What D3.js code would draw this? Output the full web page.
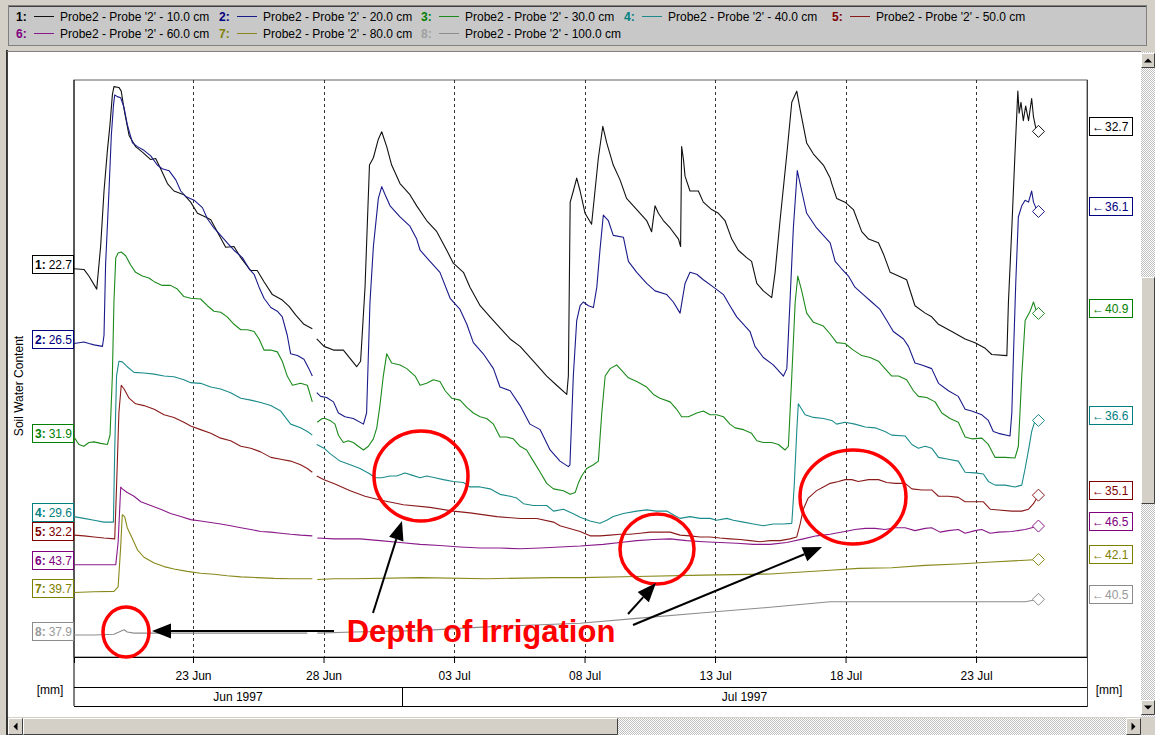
<!DOCTYPE html>
<html>
<head>
<meta charset="utf-8">
<script src="https://cdn.jsdelivr.net/npm/d3@7"></script>
<style>
  html, body { margin: 0; padding: 0; background: #d4d0c8; }
  svg { display: block; font-family: "Liberation Sans", Arial, sans-serif; }
</style>
</head>
<body>
<svg id="chart" width="1155" height="735"></svg>
<script>
// ---- Series: [day, soil water content]; day 1 = 1 Jun 1997 00:00, null = logging gap ----
const seriesLabels = [
  "Probe2 - Probe '2' - 10.0 cm", "Probe2 - Probe '2' - 20.0 cm",
  "Probe2 - Probe '2' - 30.0 cm", "Probe2 - Probe '2' - 40.0 cm",
  "Probe2 - Probe '2' - 50.0 cm", "Probe2 - Probe '2' - 60.0 cm",
  "Probe2 - Probe '2' - 80.0 cm", "Probe2 - Probe '2' - 100.0 cm"
];

const depth10 = [[18.44,22.70],[18.82,22.65],[19.01,22.17],[19.31,21.22],[19.46,24.32],[19.59,28.36],[19.72,31.32],[19.82,33.21],[19.91,35.36],[19.97,35.96],[20.16,35.90],[20.25,35.63],[20.36,34.29],[20.55,32.40],[20.80,31.59],[21.06,31.19],[21.38,30.65],[21.57,30.73],[21.76,29.98],[22.02,28.90],[22.27,28.36],[22.65,28.09],[22.91,27.55],[23.17,26.74],[23.48,26.47],[23.68,26.26],[23.93,25.40],[24.25,24.27],[24.57,24.32],[24.83,23.51],[25.21,22.57],[25.46,22.57],[25.72,21.76],[26.04,20.82],[26.42,20.42],[26.68,19.96],[26.93,19.34],[27.25,18.66],[27.57,18.34],[27.65,null],[27.74,17.59],[28.02,17.05],[28.38,16.78],[28.76,16.78],[29.27,15.57],[29.42,15.97],[29.59,21.36],[29.76,30.25],[29.91,30.78],[30.10,32.13],[30.23,32.67],[30.42,31.59],[30.61,30.25],[30.93,28.90],[31.31,28.09],[31.57,27.28],[31.95,26.21],[32.34,25.40],[32.72,24.05],[32.97,23.11],[33.36,22.44],[33.61,21.36],[34.00,20.01],[34.38,19.20],[34.76,18.40],[35.15,17.59],[35.53,17.05],[36.04,15.97],[36.55,14.89],[36.93,14.22],[37.32,13.55],[37.38,14.89],[37.45,27.55],[37.57,28.36],[37.70,29.30],[37.83,28.36],[38.02,26.74],[38.27,25.94],[38.40,28.36],[38.53,30.78],[38.70,33.07],[38.85,31.86],[39.10,30.25],[39.36,29.17],[39.61,27.82],[40.00,27.01],[40.38,26.21],[40.57,25.40],[40.70,27.28],[40.83,26.74],[41.02,26.21],[41.28,25.67],[41.60,24.86],[41.68,24.32],[41.72,31.59],[41.79,30.65],[41.85,29.44],[42.04,28.36],[42.36,28.36],[42.55,27.55],[42.87,27.01],[43.13,26.74],[43.38,26.21],[43.64,24.86],[43.89,24.05],[44.21,23.51],[44.40,23.24],[44.60,21.63],[44.85,21.09],[45.17,20.60],[45.30,22.44],[45.49,26.21],[45.75,31.05],[45.94,34.82],[46.13,35.63],[46.26,34.29],[46.51,31.86],[46.77,31.05],[47.15,30.25],[47.41,29.30],[47.47,28.90],[47.66,27.82],[47.98,27.55],[48.30,27.01],[48.62,25.40],[48.88,24.86],[49.26,24.59],[49.45,23.78],[49.71,22.44],[50.03,22.17],[50.34,21.90],[50.66,20.01],[51.05,19.47],[51.30,19.20],[51.56,18.66],[52.07,18.13],[52.58,17.59],[52.96,17.32],[53.35,16.91],[53.60,16.46],[54.18,16.38],[54.24,20.28],[54.37,25.67],[54.49,31.05],[54.60,35.63],[54.65,34.02],[54.72,34.82],[54.81,33.48],[54.90,34.55],[55.01,33.48],[55.13,35.09],[55.20,33.75],[55.29,32.94],[55.39,32.70]];

const depth20 = [[18.44,26.49],[18.63,26.55],[18.82,26.60],[19.01,26.49],[19.21,26.39],[19.53,26.28],[19.59,27.09],[19.65,32.20],[19.78,37.59],[19.87,41.63],[19.95,43.78],[20.00,44.59],[20.10,44.46],[20.23,44.38],[20.36,43.65],[20.48,42.44],[20.68,41.09],[20.87,40.82],[21.12,40.55],[21.38,40.15],[21.63,39.48],[21.82,39.21],[22.08,39.07],[22.34,38.40],[22.53,37.59],[22.72,37.19],[23.04,36.92],[23.36,36.38],[23.55,35.57],[23.80,34.90],[24.06,34.36],[24.31,33.82],[24.57,33.28],[24.89,32.74],[25.15,31.93],[25.34,31.53],[25.53,30.59],[25.72,29.78],[25.98,29.11],[26.23,28.84],[26.42,28.43],[26.61,27.09],[26.74,25.74],[27.00,25.61],[27.25,25.34],[27.44,24.66],[27.57,24.12],[27.65,null],[27.74,22.91],[27.89,22.64],[28.12,22.56],[28.38,22.24],[28.57,21.43],[28.82,21.16],[29.14,21.03],[29.53,20.62],[29.65,21.43],[29.78,29.51],[29.91,33.55],[30.10,37.05],[30.23,37.91],[30.36,37.32],[30.55,36.51],[30.93,35.70],[31.31,35.03],[31.57,34.09],[31.70,33.28],[32.08,32.47],[32.46,31.67],[32.85,29.78],[33.23,28.97],[33.49,27.89],[33.74,26.55],[34.12,25.74],[34.51,24.66],[34.76,23.32],[35.15,23.05],[35.53,21.97],[35.91,20.62],[36.30,20.22],[36.68,18.74],[37.06,17.93],[37.38,17.53],[37.44,17.66],[37.57,24.12],[37.70,28.16],[37.83,29.24],[37.95,29.51],[38.15,29.24],[38.34,29.11],[38.47,30.59],[38.59,33.28],[38.72,35.84],[38.91,35.44],[39.10,34.36],[39.49,34.22],[39.68,32.47],[40.00,31.67],[40.38,30.86],[40.70,30.32],[41.15,30.05],[41.40,29.51],[41.66,28.70],[41.85,30.86],[42.04,31.67],[42.30,31.53],[42.55,31.13],[42.94,30.59],[43.32,30.05],[43.57,29.24],[43.83,28.43],[44.09,27.89],[44.34,27.36],[44.53,26.28],[44.85,25.47],[45.23,24.93],[45.62,24.12],[45.75,24.66],[45.87,29.51],[46.00,34.90],[46.15,39.07],[46.32,37.59],[46.51,35.97],[46.89,34.90],[47.28,34.09],[47.41,33.82],[47.60,32.47],[47.85,31.93],[48.11,31.40],[48.36,30.59],[48.68,30.05],[49.00,29.51],[49.32,28.97],[49.58,28.16],[49.83,27.36],[50.22,26.82],[50.41,26.28],[50.66,25.07],[50.92,24.93],[51.30,24.66],[51.56,23.59],[51.94,23.05],[52.32,22.64],[52.58,21.70],[52.83,21.57],[53.22,21.30],[53.47,20.89],[53.66,20.08],[53.86,19.95],[54.30,19.76],[54.37,21.43],[54.43,25.47],[54.52,30.86],[54.62,35.70],[54.75,36.51],[54.88,36.92],[55.01,36.78],[55.13,37.59],[55.20,36.78],[55.29,36.38],[55.39,36.10]];

const depth30 = [[18.44,31.90],[18.63,31.36],[18.82,31.23],[19.01,31.50],[19.21,31.55],[19.46,31.44],[19.72,31.36],[19.82,32.03],[19.91,36.34],[19.97,41.73],[20.04,44.96],[20.13,45.29],[20.25,45.37],[20.42,45.10],[20.61,44.42],[20.80,43.89],[21.06,43.62],[21.31,43.48],[21.51,43.21],[21.82,42.94],[22.14,42.94],[22.40,42.67],[22.65,42.13],[22.91,42.00],[23.29,41.95],[23.55,41.46],[23.80,41.06],[24.06,40.98],[24.31,40.65],[24.57,40.11],[24.83,39.71],[25.08,39.71],[25.34,39.58],[25.53,39.04],[25.72,38.23],[25.98,38.23],[26.23,38.10],[26.42,37.42],[26.61,36.34],[26.81,35.67],[27.12,35.81],[27.38,35.67],[27.57,34.46],[27.65,null],[27.76,32.98],[27.95,33.25],[28.06,33.25],[28.25,33.11],[28.44,32.84],[28.57,32.03],[28.76,31.50],[28.95,31.63],[29.14,31.50],[29.33,31.23],[29.53,30.96],[29.72,31.23],[29.91,31.77],[30.04,32.57],[30.16,34.19],[30.29,36.34],[30.42,37.96],[30.61,37.29],[30.93,37.15],[31.19,36.88],[31.51,36.34],[31.70,35.67],[31.95,35.81],[32.21,36.07],[32.46,35.94],[32.66,35.27],[32.91,34.73],[33.23,34.59],[33.49,34.06],[33.74,33.65],[34.00,33.38],[34.25,33.25],[34.51,32.84],[34.76,31.90],[35.02,31.90],[35.27,31.77],[35.53,31.23],[35.78,30.96],[36.04,30.15],[36.30,29.34],[36.55,28.53],[36.81,28.13],[37.19,27.99],[37.45,27.73],[37.64,27.86],[37.76,28.53],[37.89,29.07],[38.08,29.61],[38.34,29.88],[38.53,30.15],[38.66,33.65],[38.79,36.34],[38.98,36.88],[39.23,37.15],[39.42,36.75],[39.68,36.21],[40.00,35.94],[40.38,35.54],[40.64,35.00],[40.89,34.73],[41.28,34.46],[41.53,33.92],[41.72,33.38],[41.98,33.38],[42.30,33.65],[42.55,33.79],[42.81,33.52],[43.06,33.52],[43.32,33.38],[43.57,32.84],[43.77,32.57],[44.09,32.44],[44.40,32.17],[44.60,31.63],[44.85,31.50],[45.17,31.50],[45.43,31.36],[45.68,30.96],[45.81,31.23],[45.94,36.34],[46.07,41.73],[46.17,43.62],[46.32,42.54],[46.51,40.92],[46.77,40.25],[47.15,39.98],[47.41,39.40],[47.66,38.77],[47.98,38.71],[48.30,38.23],[48.62,37.83],[48.94,37.69],[49.26,37.42],[49.51,36.88],[49.77,36.34],[50.03,36.34],[50.34,36.07],[50.60,35.27],[50.79,34.86],[51.11,34.78],[51.43,34.46],[51.69,33.65],[52.00,33.25],[52.32,32.98],[52.58,31.90],[52.83,31.77],[53.22,31.82],[53.47,31.36],[53.73,30.42],[54.11,30.42],[54.49,30.37],[54.62,31.23],[54.75,36.34],[54.88,40.38],[55.07,41.06],[55.20,41.73],[55.29,41.19],[55.39,40.90]];

const depth40 = [[18.44,29.60],[18.82,29.47],[19.21,29.33],[19.59,29.20],[19.95,29.20],[20.00,34.45],[20.07,39.83],[20.16,40.91],[20.29,40.86],[20.48,40.51],[20.74,40.10],[21.12,40.05],[21.51,39.97],[21.89,39.83],[22.27,39.78],[22.65,39.56],[22.91,39.35],[23.29,39.30],[23.68,39.03],[24.06,38.89],[24.44,38.62],[24.83,38.22],[25.21,38.08],[25.59,37.90],[25.98,37.68],[26.36,37.28],[26.74,36.33],[27.12,36.06],[27.38,35.79],[27.57,35.53],[27.65,null],[27.74,34.85],[28.02,34.58],[28.25,34.18],[28.63,33.64],[29.02,33.37],[29.40,33.10],[29.78,32.70],[29.97,32.43],[30.23,32.43],[30.55,32.56],[30.80,32.56],[31.12,32.78],[31.38,32.62],[31.70,32.43],[31.95,32.56],[32.27,32.43],[32.59,32.29],[32.97,32.16],[33.36,32.08],[33.61,31.76],[34.00,31.76],[34.38,31.62],[34.76,31.22],[35.15,31.08],[35.40,30.95],[35.66,30.54],[36.04,30.41],[36.55,30.41],[36.81,30.00],[37.19,30.14],[37.57,29.80],[37.83,29.55],[38.21,29.28],[38.59,29.11],[38.85,29.33],[39.10,29.60],[39.49,29.82],[40.00,30.00],[40.38,30.09],[40.76,30.00],[41.15,30.00],[41.40,29.73],[41.66,29.47],[42.04,29.60],[42.42,29.47],[42.81,29.47],[43.06,29.33],[43.45,29.47],[43.70,29.33],[44.09,29.20],[44.47,29.06],[44.85,28.93],[45.23,29.06],[45.62,29.06],[45.94,29.11],[46.03,31.76],[46.13,35.79],[46.19,37.81],[46.32,37.41],[46.45,37.01],[46.77,36.82],[47.15,36.74],[47.47,36.60],[47.66,36.33],[47.98,36.47],[48.36,36.33],[48.75,36.12],[49.13,36.06],[49.51,35.79],[49.77,35.53],[50.28,35.47],[50.54,34.85],[50.79,34.58],[51.05,34.72],[51.30,34.58],[51.56,33.91],[51.94,33.77],[52.32,33.64],[52.58,32.83],[52.96,32.78],[53.28,32.70],[53.47,32.16],[53.73,31.89],[54.11,31.89],[54.49,31.76],[54.75,31.89],[54.88,33.10],[55.01,34.45],[55.13,35.79],[55.26,36.60],[55.39,36.60]];

const depth50 = [[18.44,32.19],[18.82,32.14],[19.21,32.06],[19.59,31.98],[20.00,31.92],[20.07,35.69],[20.16,41.08],[20.25,43.10],[20.36,42.83],[20.55,42.16],[20.80,41.75],[21.12,41.62],[21.51,41.35],[21.89,40.95],[22.27,40.76],[22.65,40.41],[22.91,40.14],[23.29,39.87],[23.68,39.60],[24.06,39.25],[24.44,39.06],[24.83,38.66],[25.21,38.52],[25.59,38.25],[25.98,37.85],[26.36,37.71],[26.74,37.58],[27.12,37.31],[27.38,37.04],[27.57,36.77],[27.65,null],[27.74,36.50],[28.02,36.23],[28.44,35.91],[29.02,35.42],[29.59,35.02],[30.16,34.75],[31.06,34.40],[32.08,34.21],[32.97,33.94],[33.61,33.81],[34.64,33.54],[35.53,33.40],[36.17,33.40],[36.81,33.14],[37.06,32.87],[37.83,32.45],[38.21,32.14],[38.59,32.14],[38.98,32.19],[39.36,32.25],[39.74,32.25],[40.13,32.33],[40.51,32.41],[40.89,32.41],[41.28,32.41],[41.66,32.19],[42.04,32.14],[42.42,32.06],[42.81,32.06],[43.19,31.98],[43.57,31.92],[43.96,31.87],[44.34,31.79],[44.72,31.71],[45.11,31.79],[45.49,31.79],[45.87,31.92],[46.13,32.06],[46.26,33.00],[46.38,34.08],[46.57,34.89],[46.89,35.43],[47.15,35.69],[47.41,35.96],[47.73,36.10],[47.98,36.23],[48.24,36.23],[48.49,36.10],[48.88,36.23],[49.26,36.23],[49.58,36.02],[49.90,35.96],[50.28,35.96],[50.54,35.56],[50.92,35.48],[51.30,35.48],[51.56,35.02],[51.94,35.02],[52.32,34.94],[52.58,34.62],[52.96,34.62],[53.28,34.62],[53.54,34.08],[53.86,34.02],[54.37,33.94],[54.75,33.94],[55.01,34.08],[55.20,34.48],[55.39,35.10]];

const depth60 = [[18.44,43.69],[20.04,43.69],[20.13,45.30],[20.23,49.34],[20.29,49.21],[20.48,48.94],[20.74,48.67],[21.00,48.27],[21.38,48.00],[21.76,47.73],[22.14,47.41],[22.53,47.19],[22.91,46.97],[23.29,46.87],[23.68,46.76],[24.06,46.65],[24.44,46.52],[24.83,46.38],[25.21,46.25],[25.59,46.11],[25.98,46.06],[26.36,45.98],[26.74,45.90],[27.12,45.84],[27.57,45.79],[27.65,null],[27.76,45.63],[28.40,45.57],[29.40,45.57],[30.16,45.44],[30.93,45.30],[31.70,45.17],[32.46,45.09],[33.23,44.98],[34.00,44.90],[34.76,44.90],[35.53,44.85],[36.30,44.90],[37.06,44.98],[37.83,45.05],[38.72,45.17],[39.36,45.30],[40.00,45.44],[40.64,45.52],[41.28,45.57],[41.91,45.44],[42.55,45.36],[43.19,45.30],[43.83,45.25],[44.47,45.17],[45.11,45.17],[45.75,45.30],[46.38,45.57],[46.89,45.79],[47.41,45.90],[47.60,45.98],[47.98,46.11],[48.36,46.25],[48.75,46.33],[49.13,46.33],[49.51,46.25],[49.90,46.38],[50.28,46.38],[50.66,46.17],[51.05,46.33],[51.30,46.38],[51.62,46.06],[51.94,46.17],[52.32,46.25],[52.58,45.98],[52.96,46.17],[53.22,46.25],[53.54,45.98],[53.86,46.06],[54.37,46.11],[54.88,46.25],[55.39,46.50]];

const depth80 = [[18.44,39.70],[19.21,39.75],[19.97,39.78],[20.13,40.10],[20.23,43.07],[20.29,45.35],[20.38,45.22],[20.48,44.41],[20.68,43.60],[20.87,42.80],[21.12,42.26],[21.51,41.85],[21.89,41.58],[22.27,41.40],[22.78,41.23],[23.29,41.10],[23.80,41.02],[24.31,40.91],[24.83,40.83],[25.46,40.78],[26.10,40.72],[26.74,40.70],[27.57,40.70],[27.65,null],[27.76,40.64],[28.40,40.70],[29.14,40.70],[31.70,40.78],[34.25,40.70],[36.81,40.78],[37.83,40.78],[40.00,40.86],[42.55,40.96],[45.11,41.04],[47.41,41.32],[48.49,41.45],[49.77,41.50],[51.05,41.67],[52.32,41.77],[53.60,41.91],[54.88,42.04],[55.39,42.10]];

const depth100 = [[18.44,37.90],[19.21,37.90],[19.97,37.96],[20.23,38.17],[20.36,38.28],[20.48,38.12],[20.74,38.04],[22.27,38.04],[24.83,38.04],[27.38,38.04],[27.65,null],[27.76,38.04],[29.14,38.12],[31.70,38.22],[34.25,38.49],[37.83,38.76],[40.00,39.11],[42.55,39.52],[45.11,39.92],[47.41,40.32],[48.49,40.32],[51.05,40.32],[53.60,40.32],[54.88,40.32],[55.39,40.50]];

// each trace is auto-scaled on its own axis of equal span
const axisMin = [-5.56, 3.67, 15.89, 19.38, 23.32, 36.97, 35.0, 36.3];
const axisSpan = 42;

const tickDays = [23, 28, 33, 38, 43, 48, 53];
const monthStarts = [1, 31];
const monthLabels = ["Jun 1997", "Jul 1997"];
const viewDays = [18.44, 57.25];

const colors = ["#000000", "#000080", "#008000", "#008080", "#800000", "#800080", "#808000", "#8c8c8c"];
const lineColors = ["#111111", "#1a1a8a", "#1c8a1c", "#1b8b8b", "#8a1a1a", "#8a1a8a", "#88881a", "#8c8c8c"];
const allSeries = [depth10, depth20, depth30, depth40, depth50, depth60, depth80, depth100];

// ---- layout ----
const svg = d3.select("#chart");
const P = { left: 74, right: 1087, top: 80, bottom: 657 };
const FONT = "12px";

const toDate = t => new Date(Date.UTC(1997, 4, 31) + t * 864e5);
const x = d3.scaleUtc().domain(viewDays.map(toDate)).range([P.left, P.right]);
const yScales = axisMin.map(m => d3.scaleLinear().domain([m, m + axisSpan]).range([P.bottom, P.top]));

// dithered scrollbar track
const defs = svg.append("defs");
const pat = defs.append("pattern").attr("id", "dither").attr("width", 2).attr("height", 2)
  .attr("patternUnits", "userSpaceOnUse");
pat.append("rect").attr("width", 2).attr("height", 2).attr("fill", "#ffffff");
pat.append("rect").attr("width", 1).attr("height", 1).attr("fill", "#c0c0c0");
pat.append("rect").attr("x", 1).attr("y", 1).attr("width", 1).attr("height", 1).attr("fill", "#c0c0c0");
defs.append("clipPath").attr("id", "plotClip").append("rect")
  .attr("x", P.left).attr("y", P.top - 2).attr("width", P.right - P.left).attr("height", P.bottom - P.top + 2);

// window background and chart panel
svg.append("rect").attr("width", 1155).attr("height", 735).attr("fill", "#d4d0c8");
svg.append("rect").attr("x", 7).attr("y", 52).attr("width", 1134).attr("height", 665).attr("fill", "#ffffff");
svg.append("line").attr("x1", 7).attr("x2", 7).attr("y1", 50).attr("y2", 735).attr("stroke", "#000").attr("stroke-width", 1.5);
svg.append("line").attr("x1", 7).attr("x2", 1141).attr("y1", 51.5).attr("y2", 51.5).attr("stroke", "#808080");

// ---- legend ----
const legend = svg.append("g");
legend.append("rect").attr("x", 8.5).attr("y", 5.5).attr("width", 1138).attr("height", 40)
  .attr("fill", "#c8c8c8").attr("stroke", "#808080");
legend.append("line").attr("x1", 9).attr("x2", 1146).attr("y1", 6.5).attr("y2", 6.5).attr("stroke", "#404040");
const legendPos = [[16, 21], [219, 21], [421, 21], [624, 21], [832, 21], [16, 38], [219, 38], [421, 38]];
seriesLabels.forEach((name, i) => {
  const [lx, ly] = legendPos[i];
  const g = legend.append("g").attr("transform", `translate(${lx},${ly})`);
  g.append("text").attr("x", 0).attr("y", 0).attr("font-size", FONT).attr("font-weight", "bold")
    .attr("fill", i === 7 ? "#a0a0a0" : colors[i]).text(`${i + 1}:`);
  g.append("line").attr("x1", 18).attr("x2", 38).attr("y1", -4.5).attr("y2", -4.5).attr("stroke", lineColors[i]);
  g.append("text").attr("x", 44).attr("y", 0).attr("font-size", FONT).attr("fill", "#000").text(name);
});

// ---- plot frame, grid ----
svg.append("rect").attr("x", P.left).attr("y", P.top).attr("width", P.right - P.left).attr("height", P.bottom - P.top)
  .attr("fill", "#fff").attr("stroke", "#606060");
svg.append("line").attr("x1", P.left).attr("x2", P.left).attr("y1", P.top).attr("y2", 706).attr("stroke", "#000");

svg.append("g").selectAll("line").data(tickDays).join("line")
  .attr("x1", d => Math.round(x(toDate(d))) + 0.5).attr("x2", d => Math.round(x(toDate(d))) + 0.5)
  .attr("y1", P.top).attr("y2", P.bottom)
  .attr("stroke", "#333").attr("stroke-dasharray", "3,3");

// ---- time axis ----
const axisG = svg.append("g").attr("transform", `translate(0,${P.bottom})`);
const xAxis = d3.axisBottom(x).tickValues(tickDays.map(toDate)).tickSize(6).tickPadding(8)
  .tickFormat(d3.utcFormat("%d %b"));
axisG.call(xAxis);
axisG.select(".domain").attr("stroke", "#000");
axisG.selectAll(".tick line").attr("stroke", "#000");
axisG.selectAll(".tick text").attr("font-size", FONT).attr("font-family", "Liberation Sans, Arial, sans-serif").attr("fill", "#000");

svg.append("line").attr("x1", P.left).attr("x2", P.right).attr("y1", 687.5).attr("y2", 687.5).attr("stroke", "#000");
svg.append("line").attr("x1", P.left).attr("x2", P.right).attr("y1", 706.5).attr("y2", 706.5).attr("stroke", "#000");
svg.append("line").attr("x1", P.right + 0.5).attr("x2", P.right + 0.5).attr("y1", P.top).attr("y2", 707).attr("stroke", "#404040");
const monthEdges = monthStarts.map(d => Math.max(P.left, x(toDate(d)))).concat([P.right]);
monthStarts.forEach((d, i) => {
  if (i > 0) svg.append("line").attr("x1", Math.round(monthEdges[i]) + 0.5).attr("x2", Math.round(monthEdges[i]) + 0.5)
    .attr("y1", 687).attr("y2", 706).attr("stroke", "#000");
  svg.append("text").attr("x", (monthEdges[i] + monthEdges[i + 1]) / 2).attr("y", 701)
    .attr("text-anchor", "middle").attr("font-size", FONT).text(monthLabels[i]);
});
svg.append("text").attr("x", 50).attr("y", 694).attr("text-anchor", "middle").attr("font-size", FONT).text("[mm]");
svg.append("text").attr("x", 1109).attr("y", 694).attr("text-anchor", "middle").attr("font-size", FONT).text("[mm]");

svg.append("text").attr("transform", "translate(23,386) rotate(-90)").attr("text-anchor", "middle")
  .attr("font-size", FONT).text("Soil Water Content");

// ---- traces ----
const traces = svg.append("g").attr("clip-path", "url(#plotClip)");
allSeries.forEach((data, i) => {
  const line = d3.line().defined(d => d[1] !== null)
    .x(d => x(toDate(d[0]))).y(d => yScales[i](d[1]));
  traces.append("path").datum(data).attr("d", line).attr("fill", "none")
    .attr("stroke", lineColors[i]).attr("stroke-width", 1.1).attr("stroke-linejoin", "round");
});

// end-of-record markers
allSeries.forEach((data, i) => {
  const last = data[data.length - 1];
  const cx = x(toDate(last[0])), cy = yScales[i](last[1]);
  svg.append("path").attr("d", `M${cx},${cy - 6}L${cx + 6},${cy}L${cx},${cy + 6}L${cx - 6},${cy}Z`)
    .attr("fill", "#fff").attr("stroke", lineColors[i]);
});

// ---- start / end value tags ----
function tag(px, cy, i, prefix, value, w, gap) {
  const g = svg.append("g");
  const c = colors[i];
  const top = Math.round(cy - 9.5);
  g.append("rect").attr("x", px + 0.5).attr("y", top + 0.5).attr("width", w).attr("height", 18)
    .attr("fill", "#fff").attr("stroke", c);
  const t = g.append("text").attr("x", px + 3).attr("y", top + 14).attr("font-size", FONT).attr("fill", i === 7 ? "#999" : c);
  t.append("tspan").attr("font-weight", "bold").text(prefix);
  t.append("tspan").attr("dx", gap).text(value);
}
allSeries.forEach((data, i) => {
  const first = data[0], last = data[data.length - 1];
  tag(32, yScales[i](first[1]) - 4, i, `${i + 1}:`, first[1].toFixed(1), 41, 3);
  tag(1089, yScales[i](last[1]) - 5, i, "\u2190", last[1].toFixed(1), 43, 1);
});

// ---- annotation ----
const ann = svg.append("g");
const ellipses = [[126, 632, 23, 25], [421, 476, 47, 45], [657, 549, 37, 35], [853, 497, 53, 47]];
ann.selectAll("ellipse").data(ellipses).join("ellipse")
  .attr("cx", d => d[0]).attr("cy", d => d[1]).attr("rx", d => d[2]).attr("ry", d => d[3])
  .attr("fill", "none").attr("stroke", "#ff0000").attr("stroke-width", 3.5);
const arrows = [[334, 631, 152, 631], [373, 613, 402, 521], [628, 614, 656, 583], [633, 625, 822, 547]];
arrows.forEach(([x1, y1, x2, y2]) => {
  const ang = Math.atan2(y2 - y1, x2 - x1), L = 19, Wd = 7.5;
  const bx = x2 - L * Math.cos(ang), by = y2 - L * Math.sin(ang);
  ann.append("line").attr("x1", x1).attr("y1", y1).attr("x2", bx).attr("y2", by).attr("stroke", "#000").attr("stroke-width", 2);
  ann.append("path").attr("d", `M${x2},${y2}L${bx + Wd * Math.sin(ang)},${by - Wd * Math.cos(ang)}L${bx - Wd * Math.sin(ang)},${by + Wd * Math.cos(ang)}Z`)
    .attr("fill", "#000");
});
ann.append("text").attr("x", 481).attr("y", 642).attr("text-anchor", "middle")
  .attr("font-size", "31px").attr("font-weight", "bold").attr("fill", "#ff0000").text("Depth of Irrigation");

// ---- scrollbars ----
function button(bx, by, w, h, dir) {
  const g = svg.append("g");
  g.append("rect").attr("x", bx).attr("y", by).attr("width", w).attr("height", h).attr("fill", "#d4d0c8");
  g.append("path").attr("d", `M${bx + 0.5},${by + h - 0.5}V${by + 0.5}H${bx + w - 0.5}`).attr("stroke", "#fff").attr("fill", "none");
  g.append("path").attr("d", `M${bx + 0.5},${by + h - 0.5}H${bx + w - 0.5}V${by + 0.5}`).attr("stroke", "#404040").attr("fill", "none");
  const cx = bx + w / 2, cy = by + h / 2;
  const tri = { up: `M${cx - 4},${cy + 2}L${cx + 4},${cy + 2}L${cx},${cy - 2}Z`,
                down: `M${cx - 4},${cy - 2}L${cx + 4},${cy - 2}L${cx},${cy + 2}Z`,
                left: `M${cx + 2},${cy - 4}L${cx + 2},${cy + 4}L${cx - 2},${cy}Z`,
                right: `M${cx - 2},${cy - 4}L${cx - 2},${cy + 4}L${cx + 2},${cy}Z` };
  if (dir) g.append("path").attr("d", tri[dir]).attr("fill", "#000");
}
svg.append("rect").attr("x", 1141).attr("y", 52).attr("width", 14).attr("height", 665).attr("fill", "url(#dither)");
button(1141, 53, 14, 15, "up");
button(1141, 277, 14, 227, null);
button(1141, 700, 14, 15, "down");
svg.append("rect").attr("x", 8).attr("y", 718).attr("width", 1133).attr("height", 17).attr("fill", "url(#dither)");
button(8, 718, 15, 17, "left");
button(23, 718, 595, 17, null);
button(1126, 718, 15, 17, "right");
svg.append("rect").attr("x", 1141).attr("y", 717).attr("width", 14).attr("height", 18).attr("fill", "#d4d0c8");
</script>
</body>
</html>
